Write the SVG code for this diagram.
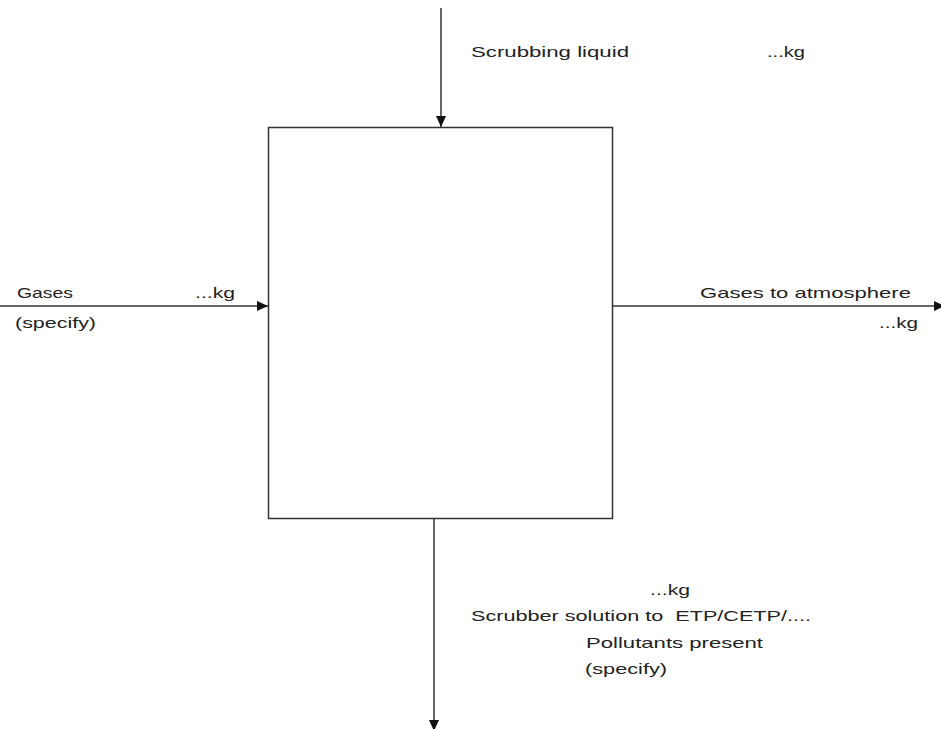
<svg xmlns="http://www.w3.org/2000/svg" width="941" height="729" viewBox="0 0 941 729">
<style>
.t{font-family:"Liberation Sans",Arial,sans-serif;font-size:15px;fill:#222;}
.c{stroke:#333;stroke-width:1.5;fill:none;}
</style>
<defs>
<marker id="ah" markerWidth="12" markerHeight="12" refX="11" refY="5" orient="auto" markerUnits="userSpaceOnUse">
<path d="M0,0 L11,5 L0,10 Z" fill="#111"/>
</marker>
</defs>
<rect width="941" height="729" fill="#fff"/>
<g id="scrubber">
<rect x="268.5" y="127.5" width="344" height="391" fill="#fff" stroke="#333" stroke-width="1.5"/>
</g>
<g id="connectors">
<line class="c" x1="441" y1="8" x2="441" y2="127" marker-end="url(#ah)"/>
<line class="c" x1="0" y1="306" x2="268" y2="306" marker-end="url(#ah)"/>
<line class="c" x1="612" y1="306" x2="945" y2="306" marker-end="url(#ah)"/>
<line class="c" x1="434" y1="518" x2="434" y2="731" marker-end="url(#ah)"/>
</g>
<g id="labels">
<text class="t" x="471" y="57" textLength="158" lengthAdjust="spacingAndGlyphs">Scrubbing liquid</text>
<text class="t" x="767" y="57" textLength="38" lengthAdjust="spacingAndGlyphs">...kg</text>
<text class="t" x="17" y="298" textLength="56" lengthAdjust="spacingAndGlyphs">Gases</text>
<text class="t" x="195" y="298" textLength="40" lengthAdjust="spacingAndGlyphs">...kg</text>
<text class="t" x="15" y="328" textLength="81" lengthAdjust="spacingAndGlyphs">(specify)</text>
<text class="t" x="700" y="298" textLength="211" lengthAdjust="spacingAndGlyphs">Gases to atmosphere</text>
<text class="t" x="879" y="328" textLength="39" lengthAdjust="spacingAndGlyphs">...kg</text>
<text class="t" x="650" y="595" textLength="40" lengthAdjust="spacingAndGlyphs">...kg</text>
<text class="t" x="471" y="621" textLength="340" lengthAdjust="spacingAndGlyphs" xml:space="preserve">Scrubber solution to  ETP/CETP/....</text>
<text class="t" x="586" y="648" textLength="177" lengthAdjust="spacingAndGlyphs">Pollutants present</text>
<text class="t" x="585" y="674" textLength="82" lengthAdjust="spacingAndGlyphs">(specify)</text>
</g>
</svg>
